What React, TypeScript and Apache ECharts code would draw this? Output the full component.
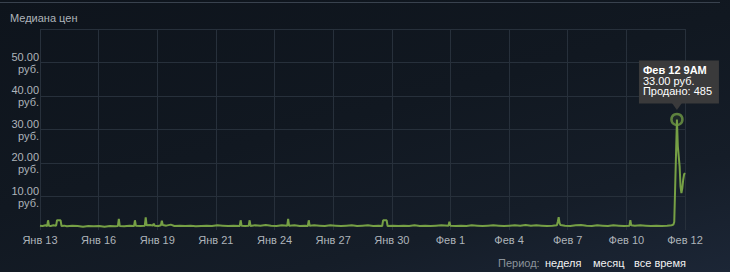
import React, { useEffect, useRef } from "react";
import * as echarts from "echarts";

const chartTitle = "Медиана цен";
const xTickLabels = [
  "Янв 13", "Янв 16", "Янв 19", "Янв 21", "Янв 24", "Янв 27",
  "Янв 30", "Фев 1", "Фев 4", "Фев 7", "Фев 10", "Фев 12",
];
const currencySuffix = "руб.";
const yMax = 60;
const yStep = 10;
const totalHours = 720; // Янв 13 18:00 -> Фев 12 18:00

// hours since Янв 13 18:00
const priceHours = [
  0, 3, 6, 8, 9, 10, 12, 15, 18, 19, 23, 24, 27, 30, 36, 42, 48, 54, 60, 66,
  72, 78, 84, 87, 88, 89, 94, 100, 105, 106, 107, 112, 117, 118, 119, 123, 126, 127, 128, 132,
  135, 136, 137, 141, 146, 150, 156, 162, 168, 174, 180, 186, 192, 198, 204, 210, 216, 223, 224, 225,
  229, 233, 234, 235, 240, 246, 252, 258, 264, 270, 276, 277, 278, 284, 290, 296, 299, 300, 301, 306,
  312, 318, 324, 330, 336, 342, 348, 354, 360, 366, 372, 378, 382, 383, 387, 388, 394, 400, 406, 412,
  418, 424, 430, 436, 442, 448, 456, 457, 458, 464, 470, 476, 482, 488, 494, 500, 506, 512, 518, 524,
  530, 536, 542, 548, 554, 560, 566, 572, 577, 578, 579, 580, 581, 586, 592, 598, 604, 610, 616, 622,
  628, 634, 640, 646, 652, 658, 659, 660, 664, 670, 676, 682, 688, 694, 700, 705, 707, 708, 711, 712,
  713, 714, 715, 716, 717, 718, 719, 720,
];
const priceValues = [
  1.3, 1.2, 1.4, 1.2, 2.9, 1.3, 1.2, 1.4, 1.3, 2.9, 2.9, 1.2, 1.3, 1.1, 1.3, 1.2, 1.0, 1.2, 1.1, 1.2,
  1.0, 1.2, 1.1, 1.2, 3.3, 1.2, 1.1, 1.3, 1.2, 2.9, 1.3, 1.2, 1.3, 3.8, 1.4, 1.5, 1.3, 1.9, 1.3, 1.2,
  1.4, 2.8, 1.5, 1.3, 1.6, 1.2, 1.3, 1.2, 1.3, 1.1, 1.2, 1.3, 1.2, 1.4, 1.3, 1.2, 1.3, 1.2, 2.9, 1.3,
  1.2, 1.3, 2.9, 1.2, 1.4, 1.3, 1.5, 1.3, 1.2, 1.4, 1.3, 3.3, 1.3, 1.4, 1.2, 1.3, 1.2, 2.9, 1.3, 1.4,
  1.3, 1.2, 1.4, 1.3, 1.2, 1.3, 1.4, 1.2, 1.3, 1.4, 1.2, 1.3, 1.2, 2.9, 2.9, 1.2, 1.3, 1.2, 1.3, 1.2,
  1.4, 1.2, 1.3, 1.2, 1.3, 1.4, 1.3, 2.5, 1.3, 1.2, 1.3, 1.2, 1.4, 1.3, 1.2, 1.3, 1.4, 1.3, 1.2, 1.3,
  1.4, 1.3, 1.5, 1.3, 1.4, 1.3, 1.2, 1.3, 1.4, 2.5, 3.8, 2.0, 1.5, 1.3, 1.2, 1.4, 1.5, 1.3, 1.2, 1.4,
  1.3, 1.2, 1.4, 1.3, 1.2, 1.3, 2.9, 1.4, 1.3, 1.4, 1.3, 1.2, 1.3, 1.2, 1.3, 1.4, 1.6, 2.4, 33, 25,
  22, 19, 13, 11, 12.5, 15, 16.6, 17,
];

const peakHour = 711;
const peakPrice = 33;
const tooltipTitle = "Фев 12 9AM";
const tooltipPrice = "33.00 руб.";
const soldLabel = "Продано";
const soldCount = 485;

const periodLabel = "Период:";
const periodOptions = ["неделя", "месяц", "все время"];

const FONT = 'Arial, "Liberation Sans", sans-serif';
const GREEN = "#76a045";
const GRID_COLOR = "#27303b";
const LABEL_COLOR = "#aeb4ba";

export default function App() {
  const ref = useRef<HTMLDivElement>(null);

  useEffect(() => {
    document.body.style.margin = "0";
    if (!ref.current) return;
    const chart = echarts.init(ref.current, undefined, { renderer: "svg" });
    const steps = xTickLabels.length - 1;
    const unit = (steps * 10) / totalHours;
    const toX = (h: number) => h * unit;
    const data = priceHours.map((h, i) => [toX(h), priceValues[i]]);
    const yLineColors = Array.from({ length: yMax / yStep + 1 }, (_, i) =>
      i === 0 ? "rgba(0,0,0,0)" : GRID_COLOR
    );

    chart.setOption({
      animation: false,
      backgroundColor: "transparent",
      title: {
        text: chartTitle,
        left: 5,
        top: 7,
        textStyle: { color: LABEL_COLOR, fontSize: 11, fontWeight: "normal", fontFamily: FONT },
      },
      grid: { left: 40, right: 45, top: 29, bottom: 42 },
      xAxis: {
        type: "value",
        min: 0,
        max: steps * 10,
        interval: 10,
        axisLine: { show: false },
        axisTick: { show: false },
        splitLine: { show: true, lineStyle: { color: GRID_COLOR, width: 1 } },
        axisLabel: {
          color: LABEL_COLOR,
          fontSize: 11,
          fontFamily: FONT,
          margin: 4,
          showMinLabel: true,
          showMaxLabel: true,
          formatter: (v: number) => xTickLabels[Math.round(v / 10)] ?? "",
        },
      },
      yAxis: {
        type: "value",
        min: 0,
        max: yMax,
        interval: yStep,
        axisLine: { show: false },
        axisTick: { show: false },
        splitLine: { show: true, lineStyle: { color: yLineColors, width: 1 } },
        axisLabel: {
          color: LABEL_COLOR,
          fontSize: 11,
          fontFamily: FONT,
          lineHeight: 12,
          margin: 1,
          formatter: (v: number) =>
            v === 0 || v === yMax ? "" : `${v.toFixed(2)}\n${currencySuffix}`,
        },
      },
      series: [
        {
          type: "line",
          data,
          showSymbol: false,
          symbol: "none",
          z: 3,
          lineStyle: { color: GREEN, width: 2 },
        },
        {
          type: "scatter",
          data: [[toX(peakHour), peakPrice]],
          symbol: "circle",
          symbolSize: 11,
          z: 4,
          itemStyle: { color: "rgba(104,143,62,0.15)", borderColor: "#6f9a45", borderWidth: 2.5 },
        },
      ],
    });

    const [px, py] = chart.convertToPixel({ gridIndex: 0 }, [toX(peakHour), peakPrice]) as number[];
    const boxFill = "#3a3a3b";
    chart.setOption({
      graphic: [
        {
          type: "rect",
          shape: { x: 0, y: 2, width: 720, height: 1 },
          style: { fill: "#39424e" },
          silent: true,
        },
        {
          type: "rect",
          shape: { x: px - 38, y: py - 59, width: 80, height: 43 },
          style: { fill: boxFill },
          z: 100,
        },
        {
          type: "polygon",
          shape: { points: [[px - 5, py - 16.5], [px + 5, py - 16.5], [px, py - 9.5]] },
          style: { fill: boxFill },
          z: 100,
        },
        {
          type: "text",
          x: px - 34,
          y: py - 54.5,
          z: 101,
          style: {
            text: `{t|${tooltipTitle}}\n{n|${tooltipPrice}}\n{n|${soldLabel}: ${soldCount}}`,
            fill: "#ffffff",
            font: `11px ${FONT}`,
            lineHeight: 10.5,
            verticalAlign: "top",
            rich: {
              t: { fill: "#ffffff", fontWeight: "bold", fontSize: 11, fontFamily: FONT, lineHeight: 10.5 },
              n: { fill: "#ffffff", fontSize: 11, fontFamily: FONT, lineHeight: 10.5 },
            },
          },
        },
        {
          type: "text",
          x: 498,
          y: 263,
          style: { text: periodLabel, fill: "#8b939b", font: `11px ${FONT}`, verticalAlign: "middle" },
        },
        {
          type: "text",
          x: 545,
          y: 263,
          style: { text: periodOptions[0], fill: "#f2f2f2", font: `11px ${FONT}`, verticalAlign: "middle" },
        },
        {
          type: "text",
          x: 593,
          y: 263,
          style: { text: periodOptions[1], fill: "#f2f2f2", font: `11px ${FONT}`, verticalAlign: "middle" },
        },
        {
          type: "text",
          x: 634,
          y: 263,
          style: { text: periodOptions[2], fill: "#f2f2f2", font: `11px ${FONT}`, verticalAlign: "middle" },
        },
      ],
    });

    return () => chart.dispose();
  }, []);

  return (
    <div
      ref={ref}
      style={{
        width: 730,
        height: 272,
        background:
          "linear-gradient(165deg, #0e141c 0%, #111821 45%, #151d28 75%, #1c2636 100%)",
      }}
    />
  );
}
